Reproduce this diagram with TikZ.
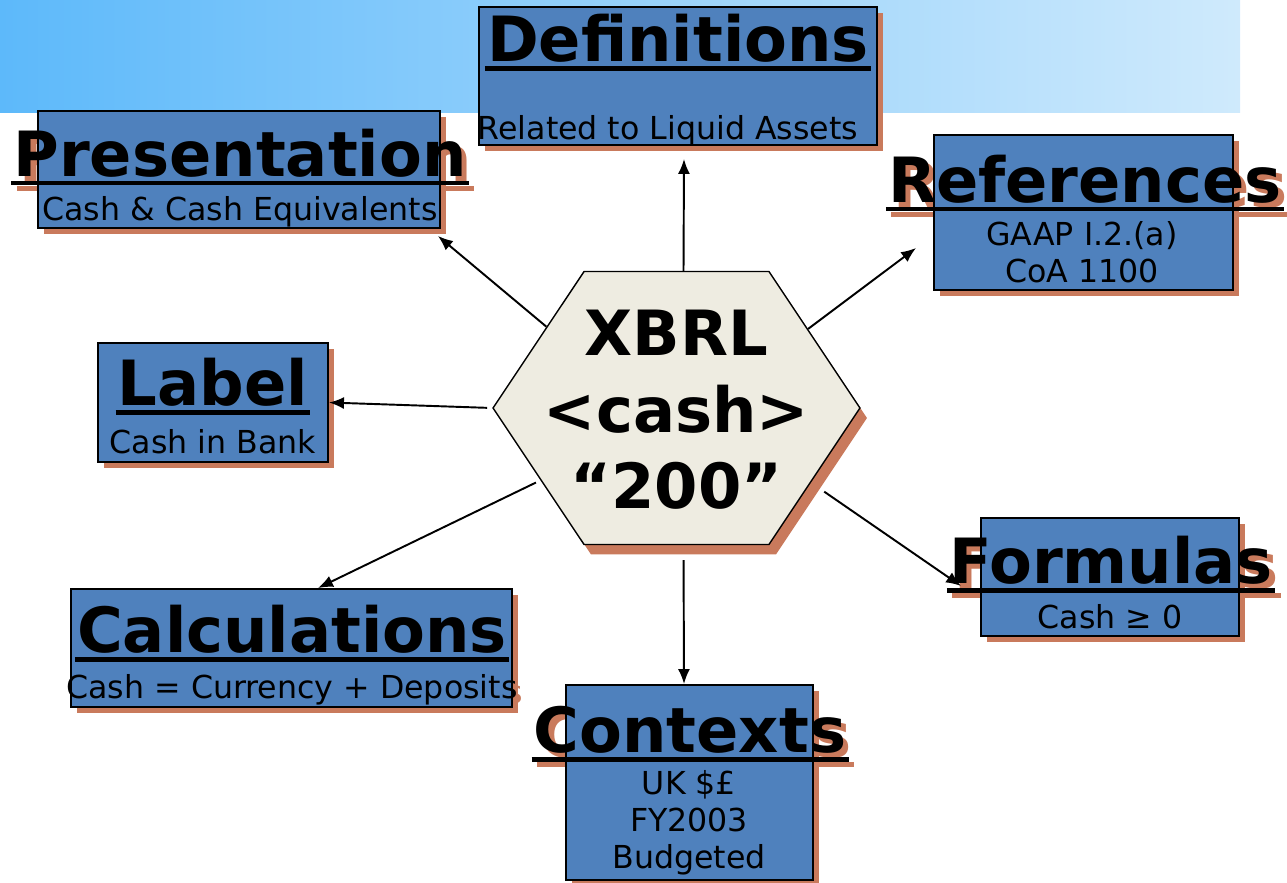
\documentclass[tikz,border=0pt]{standalone}
\usepackage{fontspec}
\setmainfont{DejaVu Sans}
\usepackage{tikz}
\usetikzlibrary{arrows.meta,calc,positioning,shapes.symbols,shadows}

\definecolor{boxblue}{HTML}{4F81BD}
\definecolor{shadowred}{HTML}{C97A5C}
\definecolor{hexfill}{HTML}{EEECE1}
\definecolor{skyleft}{HTML}{5DB9FA}
\definecolor{skyright}{HTML}{CFEAFC}

\pgfdeclarelayer{behind}
\pgfsetlayers{behind,main}

\tikzset{%
	infobox/.style  = {draw, rectangle, fill=boxblue, line width=1.1pt, inner sep=0pt, general shadow={fill=shadowred, shadow xshift=0.12cm, shadow yshift=-0.12cm}},
	hexagon/.style  = {draw, signal, signal to=east and west, signal pointer angle=112.6, fill=hexfill, line width=0.8pt, inner sep=0pt, general shadow={fill=shadowred, shadow xshift=0.14cm, shadow yshift=-0.2cm}},
	headtext/.style = {inner sep=0pt, anchor=base, font=\fontsize{35.5}{40}\selectfont\bfseries},
	subtext/.style  = {inner sep=0pt, anchor=base, align=center, font=\fontsize{18}{21}\selectfont},
	hextext/.style  = {inner sep=0pt, align=center, font=\fontsize{35.5}{43.5}\selectfont\bfseries},
	uline/.style    = {line width=0.1cm},
	link/.style     = {line width=1.1pt, -{Latex[length=0.3cm,width=0.24cm]}},
}

% heading with shadow: name, base point, text
\newcommand{\heading}[3]{%
	\begin{pgfonlayer}{behind}
	\node[headtext, text=shadowred, xshift=0.11cm, yshift=-0.11cm] (#1shadow) at (#2) {#3};
	\draw[uline, shadowred] ([shift={(-0.04cm,-0.14cm)}]#1shadow.base west) -- ([shift={(0.04cm,-0.14cm)}]#1shadow.base east);
	\end{pgfonlayer}
	\node[headtext] (#1) at (#2) {#3};
	\draw[uline] ([shift={(-0.04cm,-0.14cm)}]#1.base west) -- ([shift={(0.04cm,-0.14cm)}]#1.base east);
}
% sub text with shadow: name, base point (last line), text
\newcommand{\subheading}[3]{%
	\begin{pgfonlayer}{behind}
	\node[subtext, text=shadowred, xshift=0.11cm, yshift=-0.11cm] (#1shadow) at (#2) {#3};
	\end{pgfonlayer}
	\node[subtext] (#1) at (#2) {#3};
}

\begin{document}
\begin{tikzpicture}[x=0.02cm, y=-0.02cm]
	\useasboundingbox (0,0) rectangle (1287,882);
	\begin{pgfonlayer}{behind}
	\shade[left color=skyleft, right color=skyright] (0,0) rectangle (1240,112); % sky band
	\end{pgfonlayer}
	
	% centre
	\node[hexagon, minimum width=7.34cm, minimum height=5.46cm] (hex) at (676.5,408) {};
	\node[hextext] (hexlabel) at (676.5,410) {XBRL\\<cash>\\“200”};
	
	% boxes
	\node[infobox, minimum width=7.96cm, minimum height=2.76cm] (defs) at (678,76) {};
	\heading{defstitle}{678,62}{Definitions}
	\subheading{defssub}{668,139}{Related to Liquid Assets}
	
	\node[infobox, minimum width=8.04cm, minimum height=2.34cm] (pres) at (239,169.5) {};
	\heading{prestitle}{240,176}{Presentation}
	\subheading{pressub}{240,220}{Cash \& Cash Equivalents}
	
	\node[infobox, minimum width=5.98cm, minimum height=3.1cm] (refs) at (1083.5,212.5) {};
	\heading{refstitle}{1085,202}{References}
	\subheading{refssub}{1082,282}{GAAP I.2.(a)\\CoA 1100}
	
	\node[infobox, minimum width=4.6cm, minimum height=2.38cm] (label) at (213,402.5) {};
	\heading{labeltitle}{213,405}{Label}
	\subheading{labelsub}{213,453}{Cash in Bank}
	
	\node[infobox, minimum width=8.82cm, minimum height=2.36cm] (calc) at (291.5,648) {};
	\heading{calctitle}{292,652}{Calculations}
	\subheading{calcsub}{292,698}{Cash = Currency + Deposits}
	
	\node[infobox, minimum width=4.94cm, minimum height=3.9cm] (ctx) at (689.5,782.5) {};
	\heading{ctxtitle}{690,752}{Contexts}
	\subheading{ctxsub}{689,868}{UK \$£\\FY2003\\Budgeted}
	
	\node[infobox, minimum width=5.16cm, minimum height=2.36cm] (form) at (1110,577) {};
	\heading{formtitle}{1111,583}{Formulas}
	\subheading{formsub}{1110,628}{Cash ≥ 0}
	
	% links
	\draw[link] ([xshift=0.14cm]hex.north) -- ([xshift=0.12cm,yshift=-0.26cm]defs.south);
	\draw[link] (hex.148) -- ([shift={(-0.06cm,-0.14cm)}]pres.south east);
	\draw[link] (hex.31) -- ([shift={(-0.34cm,0.86cm)}]refs.south west);
	\draw[link, shorten <=0.1cm] (hex.west) -- (label.east);
	\draw[link, shorten <=0.1cm] (hex.208) -- ([xshift=0.53cm]calc.north);
	\draw[link, shorten <=0.3cm] ([xshift=0.14cm]hex.south) -- ([xshift=-0.11cm]ctx.north);
	\draw[link, shorten <=0.32cm] (hex.331) -- ([shift={(-0.38cm,-0.18cm)}]form.west);
\end{tikzpicture}
\end{document}
